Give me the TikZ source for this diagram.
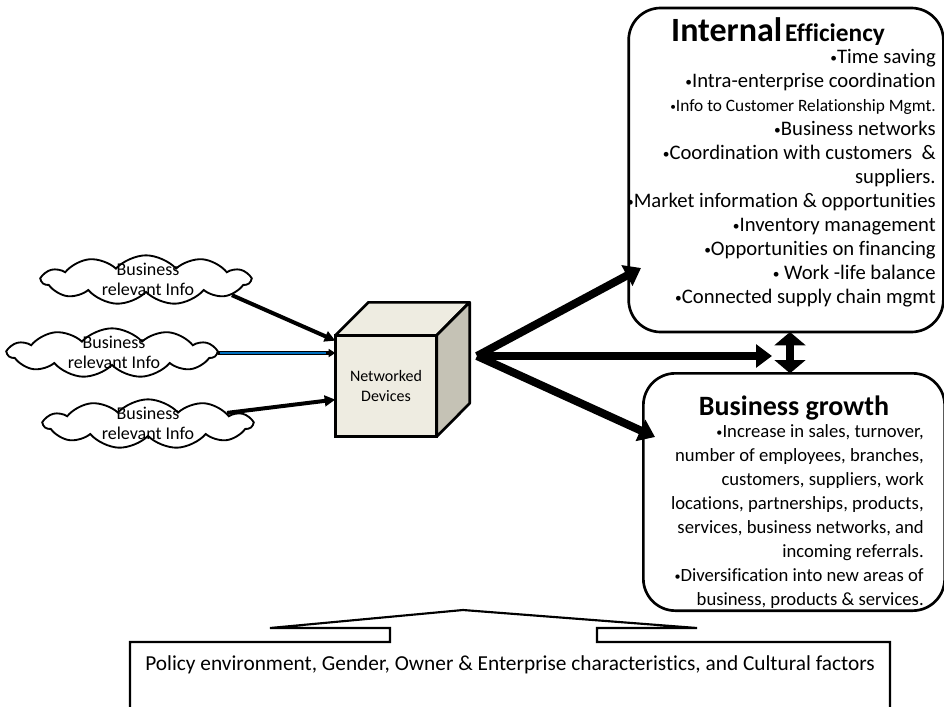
\documentclass[tikz,border=0pt]{standalone}
\usepackage{fontspec}
\usepackage{graphicx}
\setmainfont{Carlito}[Ligatures=NoCommon]
\usetikzlibrary{shapes.symbols, arrows.meta, positioning}
\newcommand{\bul}{\raisebox{0.12ex}{\scalebox{0.65}{•}}}
\tikzstyle{infocloud} = [cloud, draw, line width=1.4pt, cloud puffs=11, cloud puff arc=95, aspect=4.4, minimum width=156pt, minimum height=37pt, inner sep=0pt]
\tikzstyle{cloudtext} = [align=center, font=\fontsize{13.5}{15}\selectfont]
\tikzstyle{cubefront} = [rectangle, draw, line width=2pt, fill={rgb,255:red,238;green,236;blue,225}, minimum width=76pt, minimum height=76pt, outer sep=0pt, align=center, font=\fontsize{12}{15}\selectfont]
\tikzstyle{resultbox} = [rectangle, draw, line width=2pt, rounded corners=24pt, outer sep=0pt]
\tikzstyle{inarrow} = [line width=3pt, -{Triangle[length=8pt, width=8pt]}]
\tikzstyle{outarrow} = [line width=6pt, -{Triangle[length=12pt, width=17pt]}]

\begin{document}
\begin{tikzpicture}[x=0.75pt, y=-0.75pt, node distance=2cm, auto]
  \useasboundingbox (0,0) rectangle (944,706);
  \clip (0,0) rectangle (944,706);

  % clouds of information
  \node[infocloud] (info1) at (146,280) {};
  \node[cloudtext] (info1t) at (148,279) {Business\\relevant Info};
  \node[infocloud] (info2) at (112,353) {};
  \node[cloudtext] (info2t) at (114,352) {Business\\relevant Info};
  \node[infocloud] (info3) at (148,424) {};
  \node[cloudtext] (info3t) at (148,423) {Business\\relevant Info};

  % cube
  \node[cubefront] (dev) at (386,386) {Networked\\Devices};
  \draw[line width=2pt, fill={rgb,255:red,238;green,236;blue,225}, line join=round]
    (dev.north west) -- ++(33,-33) -- ++(101,0) -- (dev.north east) -- cycle;
  \draw[line width=2pt, fill={rgb,255:red,197;green,194;blue,181}, line join=round]
    (dev.north east) -- ++(33,-33) -- ++(0,101) -- (dev.south east) -- cycle;

  % result boxes
  \node[resultbox, minimum width=236pt, minimum height=243pt] (eff) at (786,170) {};
  \node[anchor=base, font=\bfseries] (efftitle) at (778,42)
    {{\fontsize{25.5}{28}\selectfont Internal} {\fontsize{19}{22}\selectfont Efficiency}};
  \node[anchor=north east, align=right, inner sep=0pt, font=\fontsize{15.5}{18}\selectfont] (efflist) at (936,49)
    {\bul Time saving\\ \bul Intra-enterprise coordination\\ {\fontsize{13}{18}\selectfont \bul Info to Customer Relationship Mgmt.}\\
     \bul Business networks\\ \bul Coordination with customers ~\&\\ suppliers.\\ \bul Market information \& opportunities\\
     \bul Inventory management\\ \bul Opportunities on financing\\ \bul\ Work -life balance\\ \bul Connected supply chain mgmt};

  \node[resultbox, minimum width=226pt, minimum height=178pt] (grow) at (794,492) {};
  \node[anchor=base, font=\bfseries\fontsize{21}{24}\selectfont] (growtitle) at (794,415) {Business growth};
  \node[anchor=north east, align=right, inner sep=0pt, font=\fontsize{14}{18}\selectfont] (growlist) at (924,424)
    {\bul Increase in sales, turnover,\\ number of employees, branches,\\ customers, suppliers, work\\
     locations, partnerships, products,\\ services, business networks, and\\ incoming referrals.\\
     \bul Diversification into new areas of\\ business, products \& services.};

  % arrows into the device
  \draw[inarrow] (info1.-10) -- ([yshift=-4]dev.north west);
  \draw[line width=3.5pt, -{Triangle[length=5pt, width=6pt]}] (info2.east) -- (info2.east -| dev.west);
  \draw[line width=1.6pt, color={rgb,255:red,0;green,112;blue,192}, shorten <=1pt, shorten >=7pt] (info2.east) -- (info2.east -| dev.west);
  \draw[inarrow] (info3.8) -- (dev.195);

  % arrows out of the device
  \coordinate (hub) at (477,356);
  \coordinate (effin) at (641,268);
  \coordinate (linkin) at (772,356);
  \coordinate (growin) at (655,437);
  \draw[outarrow] (hub) -- (effin);
  \draw[outarrow] (hub) -- (linkin);
  \draw[outarrow] (hub) -- (growin);
  \draw[line width=6pt, {Triangle[length=10pt, width=23pt]}-{Triangle[length=10pt, width=23pt]}]
    (eff.south -| 790,0) -- (grow.north -| 790,0);

  % influencing factors
  \draw[line width=1.6pt, line join=miter] (130,720) -- (130,642) -- (390,642) -- (390,628) -- (270,628)
    -- (463,610) -- (697,628) -- (597,628) -- (597,642) -- (890,642) -- (890,720);
  \node[font=\fontsize{16}{18}\selectfont] (factors) at (510,665)
    {Policy environment, Gender, Owner \& Enterprise characteristics, and Cultural factors};
\end{tikzpicture}
\end{document}
